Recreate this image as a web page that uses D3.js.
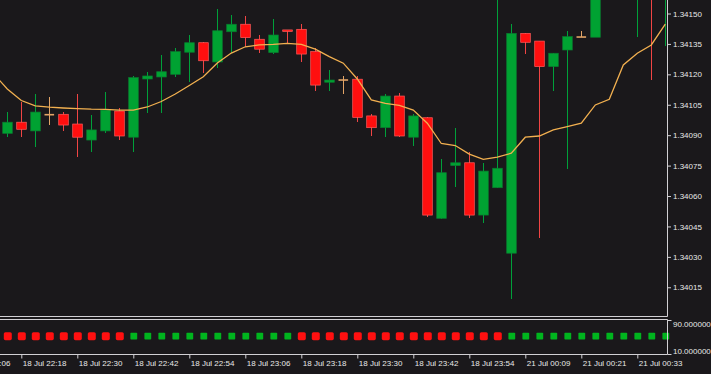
<!DOCTYPE html>
<html><head><meta charset="utf-8">
<script src="https://cdn.jsdelivr.net/npm/d3@7"></script>
<style>
html,body{margin:0;padding:0;background:#1a181b;overflow:hidden}
svg{display:block}
</style></head><body>
<svg id="c" width="711" height="374"></svg>
<script>
// ---- data (M3 candles) ----
const opens  = [1.340909,1.340964,1.340921,1.341001,1.341003,1.340955,1.340876,1.340921,1.341019,1.340890,
                1.341177,1.341187,1.341200,1.341309,1.341356,1.341261,1.341410,1.341447,1.341373,1.341307,
                1.341419,1.341422,1.341312,1.341161,1.341172,1.341176,1.340995,1.340937,1.341093,1.340890,
                1.340986,1.340490,1.340750,1.340764,1.340506,1.340641,1.340318,1.341402,1.341364,1.341238,
                1.341320,1.341384,1.341383,1.341640,1.341750,1.341600,1.341800,1.341650];
const highs  = [1.341013,1.341062,1.341102,1.341090,1.341013,1.341103,1.341000,1.341114,1.341036,1.341192,
                1.341213,1.341295,1.341331,1.341394,1.341360,1.341522,1.341493,1.341488,1.341394,1.341471,
                1.341419,1.341447,1.341331,1.341221,1.341192,1.341192,1.341004,1.341103,1.341107,1.341003,
                1.340990,1.340781,1.340934,1.340819,1.340764,1.341650,1.341447,1.341402,1.341364,1.341304,
                1.341414,1.341414,1.341665,1.341780,1.341850,1.341880,1.341850,1.341800];
const lows   = [1.340893,1.340893,1.340840,1.340950,1.340922,1.340791,1.340819,1.340909,1.340876,1.340819,
                1.341011,1.341011,1.341188,1.341164,1.341208,1.341230,1.341304,1.341336,1.341307,1.341300,
                1.341350,1.341259,1.341119,1.341118,1.341102,1.340966,1.340896,1.340893,1.340893,1.340847,
                1.340499,1.340487,1.340643,1.340490,1.340469,1.340641,1.340091,1.341299,1.340392,1.341119,
                1.340732,1.341384,1.341383,1.341600,1.341620,1.341383,1.341172,1.341340];
const closes = [1.340964,1.340929,1.341014,1.341001,1.340950,1.340890,1.340926,1.341024,1.340896,1.341184,
                1.341192,1.341213,1.341312,1.341356,1.341267,1.341415,1.341447,1.341381,1.341324,1.341394,
                1.341414,1.341300,1.341147,1.341172,1.341172,1.340988,1.340937,1.341093,1.340896,1.340995,
                1.340506,1.340715,1.340764,1.340506,1.340723,1.340737,1.341402,1.341358,1.341238,1.341304,
                1.341386,1.341384,1.341641,1.341750,1.341700,1.341800,1.341650,1.341750];
// moving average, bar -1 .. 47
const maValues = [1.341204,1.341128,1.341071,1.341044,1.341038,1.341034,1.341031,1.341028,1.341027,1.341024,
                  1.341024,1.341039,1.341066,1.341103,1.341145,1.341188,1.341256,1.341305,1.341336,1.341345,
                  1.341348,1.341353,1.341348,1.341324,1.341287,1.341255,1.341177,1.341074,1.341057,1.341047,
                  1.341024,1.340959,1.340859,1.340849,1.340807,1.340781,1.340792,1.340811,1.340890,1.340896,
                  1.340926,1.340942,1.340959,1.341049,1.341077,1.341246,1.341304,1.341345,1.341448];
// indicator state per bar: 1 = up (green), -1 = down (red)
const signalDir = [-1,-1,-1,-1,-1,-1,-1,-1,-1, 1,1,1,1,1,1,1,1,1,1,1,1,
                   -1,-1,-1,-1,-1,-1,-1,-1,-1,-1,-1,-1,-1,-1,-1,
                   1,1,1,1,1,1,1,1,1,1,1,1];
const signalLevel = 52;
const priceTicks = [1.34150,1.34135,1.34120,1.34105,1.34090,1.34075,1.34060,1.34045,1.34030,1.34015];
const timeTickIdx = [-3,1,5,9,13,17,21,25,29,33,37,41,45];
const timeTickLabels = ["18 Jul 22:06","18 Jul 22:18","18 Jul 22:30","18 Jul 22:42","18 Jul 22:54",
  "18 Jul 23:06","18 Jul 23:18","18 Jul 23:30","18 Jul 23:42","18 Jul 23:54",
  "21 Jul 00:09","21 Jul 00:21","21 Jul 00:33"];
const indTicks = [90, 10];

// ---- layout ----
const W = 711, H = 374;
const plotRight = 667.5;
const mainBottom = 316.5, indTop = 319.5, indBottom = 354.5;
const C = {
  bg:"#1a181b", axis:"#d2d0d4", text:"#e8e8e8",
  up:"#00a232", upStroke:"#0a7a30", upWick:"#00a03a",
  dn:"#ff0f0f", dnStroke:"#ff5c5c", dnWick:"#f04444",
  doji:"#e2a466", ma:"#f2b050", dotUp:"#00b41e", dotDn:"#ff1010"
};
const font = "'Liberation Sans', Arial, sans-serif";

const svg = d3.select("#c");
svg.append("rect").attr("width",W).attr("height",H).attr("fill",C.bg);

const x = d3.scaleLinear().domain([0,47]).range([7.3, 665.3]);
const y = d3.scaleLinear().domain([1.34015,1.34150]).range([287.28,13.5]);
const yi = d3.scaleLinear().domain([10,90]).range([354,320]);

svg.append("defs").append("clipPath").attr("id","mainClip")
  .append("rect").attr("x",0).attr("y",0).attr("width",plotRight-0.5).attr("height",mainBottom-0.5);

const main = svg.append("g").attr("clip-path","url(#mainClip)");
const bars = d3.range(opens.length).map(i=>({i,o:opens[i],h:highs[i],l:lows[i],c:closes[i]}));
const col = d=>d.c>d.o?"up":(d.c<d.o?"dn":"doji");

// wicks (as thin rects for solid colour)
main.append("g").selectAll("rect").data(bars).join("rect")
  .attr("x",d=>Math.round(x(d.i))).attr("width",1)
  .attr("y",d=>y(d.h)).attr("height",d=>y(d.l)-y(d.h))
  .attr("shape-rendering","crispEdges")
  .attr("fill",d=>col(d)==="up"?C.upWick:(col(d)==="dn"?C.dnWick:C.doji));

// bodies
main.append("g").selectAll("rect").data(bars.filter(d=>d.c!==d.o)).join("rect")
  .attr("x",d=>x(d.i)-4.6).attr("width",9.6)
  .attr("y",d=>y(Math.max(d.o,d.c)))
  .attr("height",d=>Math.max(1.5,Math.abs(y(d.o)-y(d.c))))
  .attr("fill",d=>d.c>d.o?C.up:C.dn)
  .attr("stroke",d=>d.c>d.o?C.upStroke:C.dnStroke)
  .attr("stroke-width",0.7);

// doji
main.append("g").selectAll("line").data(bars.filter(d=>d.c===d.o)).join("line")
  .attr("x1",d=>x(d.i)-4.8).attr("x2",d=>x(d.i)+4.8)
  .attr("y1",d=>y(d.o)).attr("y2",d=>y(d.o))
  .attr("stroke",C.doji).attr("stroke-width",1.6);

// moving average
main.append("path").datum(maValues.map((v,k)=>[k-1,v]))
  .attr("fill","none").attr("stroke",C.ma).attr("stroke-width",1.3)
  .attr("d",d3.line().x(d=>x(d[0])).y(d=>y(d[1])));

// indicator dots
svg.append("g").selectAll("rect").data(signalDir.map((s,i)=>({s,i}))).join("rect")
  .attr("x",d=>x(d.i)+0.5-(d.s>0?3.4:4))
  .attr("y",d=>yi(signalLevel)-(d.s>0?3.4:4))
  .attr("width",d=>d.s>0?6.8:8).attr("height",d=>d.s>0?6.8:8)
  .attr("rx",d=>d.s>0?0.8:1.6)
  .attr("fill",d=>d.s>0?C.dotUp:C.dotDn);

// frame lines
const frame = svg.append("g").attr("stroke",C.axis).attr("stroke-width",1);
frame.append("line").attr("x1",0).attr("x2",plotRight).attr("y1",mainBottom).attr("y2",mainBottom);
frame.append("line").attr("x1",0).attr("x2",plotRight).attr("y1",indTop).attr("y2",indTop);
frame.append("line").attr("x1",0).attr("x2",plotRight).attr("y1",indBottom).attr("y2",indBottom);
frame.append("line").attr("x1",plotRight).attr("x2",plotRight).attr("y1",0).attr("y2",mainBottom);
frame.append("line").attr("x1",plotRight).attr("x2",plotRight).attr("y1",indTop).attr("y2",indBottom);

// price axis
const ya = svg.append("g").attr("transform",`translate(${plotRight},0)`)
  .call(d3.axisRight(y).tickValues(priceTicks).tickFormat(d3.format(".5f")).tickSize(3.5).tickPadding(2));
ya.select(".domain").remove();
ya.selectAll("line").attr("stroke",C.axis);
ya.selectAll("text").attr("fill",C.text).attr("font-family",font).attr("font-size",8);

// indicator axis
const ia = svg.append("g").attr("transform",`translate(${plotRight},0)`);
ia.selectAll("line").data(indTicks).join("line")
  .attr("x1",0).attr("x2",4).attr("y1",d=>yi(d)+0.5).attr("y2",d=>yi(d)+0.5)
  .attr("stroke",C.axis);
ia.selectAll("text").data(indTicks).join("text")
  .attr("x",5.5).attr("y",d=>d===90?yi(d)+4.3:yi(d)-3)
  .attr("dy","0.35em")
  .attr("fill",C.text).attr("font-family",font).attr("font-size",8)
  .text(d=>d3.format(".6f")(d));

// time axis
const xa = svg.append("g").attr("transform",`translate(0,${indBottom})`)
  .call(d3.axisBottom(x).tickValues(timeTickIdx).tickFormat((d,i)=>timeTickLabels[i]).tickSize(4).tickPadding(2));
xa.select(".domain").remove();
xa.selectAll("line").attr("stroke",C.axis);
xa.selectAll("text").attr("fill",C.text).attr("font-family",font).attr("font-size",8)
  .attr("text-anchor","start").attr("x",1).attr("y",5.5).attr("dy","0.71em");
</script>
</body></html>
